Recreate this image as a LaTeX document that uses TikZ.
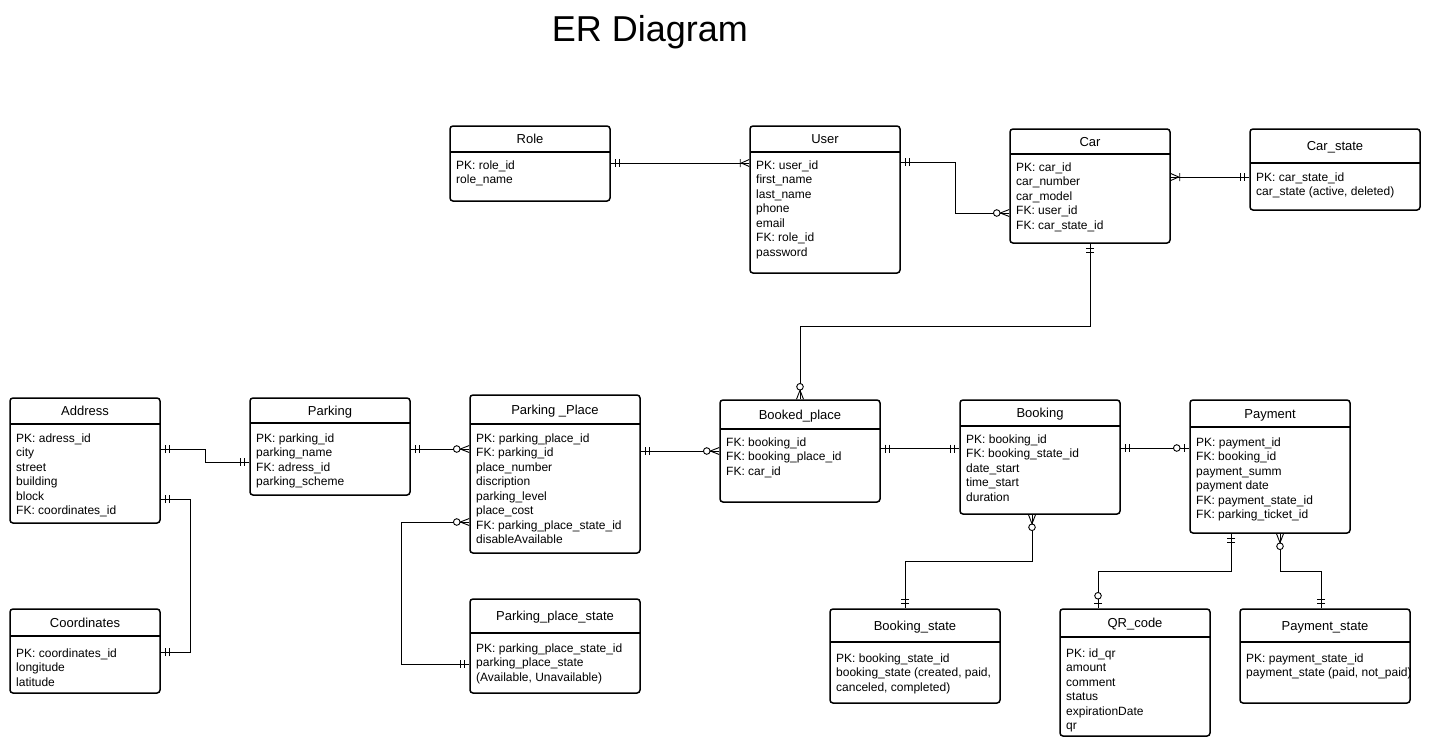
\documentclass[tikz,border=0pt]{standalone}
\usepackage{fontspec}
\setmainfont{Liberation Sans}
\usetikzlibrary{decorations.markings}

\tikzset{
  entbox/.style={draw=black, line width=1.5pt, rounded corners=3pt, inner sep=0pt, fill=white},
  divline/.style={line width=1.5pt},
  enttitle/.style={inner sep=0pt, font=\fontsize{13}{15}\selectfont, text height=9.4pt, text depth=0pt},
  entbody/.style={inner sep=0pt, align=left, anchor=north west, font=\fontsize{12}{14.5}\selectfont},
  conn/.style={draw=black, line width=0.9pt},
  mk/.style={line width=0.9pt},
  startMk/.style={postaction={decorate,decoration={markings,mark=at position 0 with {\begin{scope}[xscale=-1]#1\end{scope}}}}},
  endMk/.style={postaction={decorate,decoration={markings,mark=at position 1 with {#1}}}},
}

\newcommand{\mkOne}{\draw[mk] (-5,-4) -- (-5,4) (-9,-4) -- (-9,4);}
\newcommand{\mkOneMany}{\draw[mk] (-8,0) -- (0,3.5) (-8,0) -- (0,-3.5) (-9,-4) -- (-9,4);}
\newcommand{\mkZeroMany}{\draw[mk] (-9,0) -- (0,3.5) (-9,0) -- (0,-3.5); \draw[mk, fill=white] (-12.5,0) circle (3.3);}
\newcommand{\mkZeroOne}{\draw[mk] (-5,-4) -- (-5,4); \draw[mk, fill=white] (-12.5,0) circle (3.3);}

% name, x1, y1, x2, y2, ydiv, title, body, first baseline
\newcommand{\erEntity}[9]{%
  \node[entbox, minimum width=#4-#2, minimum height=#5-#3] (#1) at ({(#2+#4)/2},{(#3+#5)/2}) {};
  \draw[divline] (#2,#6) -- (#4,#6);
  \node[enttitle] (#1-title) at ({(#2+#4)/2},{(#3+#6)/2}) {#7};
  \node[entbody] (#1-body) at (#2+6,#9-9) {\rule{0pt}{10pt}#8};
}

\begin{document}
\begin{tikzpicture}[x=1pt, y=-1pt]
\useasboundingbox (0,0) rectangle (1432,748);

\node[inner sep=0pt, font=\fontsize{36}{40}\selectfont] (title) at (650,32) {ER Diagram};

\erEntity{role}{450}{126}{610}{201}{152}{Role}{PK: role\_id\\role\_name}{168}
\erEntity{user}{750}{126}{900}{273}{152}{User}{PK: user\_id\\first\_name\\last\_name\\phone\\email\\FK: role\_id\\password}{168}
\erEntity{car}{1010}{129}{1170}{243}{154}{Car}{PK: car\_id\\car\_number\\car\_model\\FK: user\_id\\FK: car\_state\_id}{170}
\erEntity{carstate}{1250}{129}{1420}{210}{163}{Car\_state}{PK: car\_state\_id\\car\_state (active, deleted)}{180}
\erEntity{address}{10}{398}{160}{523}{424}{Address}{PK: adress\_id\\city\\street\\building\\block\\FK: coordinates\_id}{441}
\erEntity{parking}{250}{398}{410}{495}{423}{Parking}{PK: parking\_id\\parking\_name\\FK: adress\_id\\parking\_scheme}{441}
\erEntity{pplace}{470}{395}{640}{553}{424}{Parking \_Place}{PK: parking\_place\_id\\FK: parking\_id\\place\_number\\discription\\parking\_level\\place\_cost\\FK: parking\_place\_state\_id\\disableAvailable}{441}
\erEntity{bplace}{720}{400}{880}{502}{429}{Booked\_place}{FK: booking\_id\\FK: booking\_place\_id\\FK: car\_id}{445}
\erEntity{booking}{960}{400}{1120}{514}{426}{Booking}{PK: booking\_id\\FK: booking\_state\_id\\date\_start\\time\_start\\duration}{442}
\erEntity{payment}{1190}{400}{1350}{533}{427}{Payment}{PK: payment\_id\\FK: booking\_id\\payment\_summ\\payment date\\FK: payment\_state\_id\\FK: parking\_ticket\_id}{445}
\erEntity{coords}{10}{609}{160}{693}{636}{Coordinates}{PK: coordinates\_id\\longitude\\latitude}{656}
\erEntity{ppstate}{470}{599}{640}{693}{633}{Parking\_place\_state}{PK: parking\_place\_state\_id\\parking\_place\_state\\(Available, Unavailable)}{651}
\erEntity{bstate}{830}{609}{1000}{703}{642}{Booking\_state}{PK: booking\_state\_id\\booking\_state (created, paid,\\canceled, completed)}{661}
\erEntity{qr}{1060}{609}{1210}{736}{637}{QR\_code}{PK: id\_qr\\amount\\comment\\status\\expirationDate\\qr}{656}
\erEntity{pstate}{1240}{609}{1410}{703}{642}{Payment\_state}{PK: payment\_state\_id\\payment\_state (paid, not\_paid)}{661}

% connectors
\draw[conn, startMk=\mkOne, endMk=\mkOneMany] (role.east |- 0,163) -- (user.west |- 0,163);
\draw[conn, startMk=\mkOne, endMk=\mkZeroMany] (user.east |- 0,162) -- (955,162) -- (955,213) -- (car.west |- 0,213);
\draw[conn, startMk=\mkOneMany, endMk=\mkOne] (car.east |- 0,177) -- (carstate.west |- 0,177);
\draw[conn, startMk=\mkOne, endMk=\mkZeroMany] (car.south) -- (1090,326) -| (bplace.north);
\draw[conn, startMk=\mkOne, endMk=\mkOne] (address.east |- 0,449) -- (205,449) |- (parking.west |- 0,462);
\draw[conn, startMk=\mkOne, endMk=\mkOne] (address.east |- 0,499) -- (190,499) |- (coords.east |- 0,652);
\draw[conn, startMk=\mkOne, endMk=\mkZeroMany] (parking.east |- 0,449) -- (pplace.west |- 0,449);
\draw[conn, startMk=\mkOne, endMk=\mkZeroMany] (pplace.east |- 0,451) -- (bplace.west |- 0,451);
\draw[conn, startMk=\mkZeroMany, endMk=\mkOne] (pplace.west |- 0,522) -- (401,522) |- (ppstate.west |- 0,664);
\draw[conn, startMk=\mkOne, endMk=\mkOne] (bplace.east |- 0,448.5) -- (booking.west |- 0,448.5);
\draw[conn, startMk=\mkOne, endMk=\mkZeroOne] (booking.east |- 0,448) -- (payment.west |- 0,448);
\draw[conn, startMk=\mkZeroMany, endMk=\mkOne] (booking.south -| 1032,0) -- (1032,561) -| (bstate.north -| 905,0);
\draw[conn, startMk=\mkOne, endMk=\mkZeroOne] (payment.south -| 1231,0) -- (1231,571) -| (qr.north -| 1098,0);
\draw[conn, startMk=\mkZeroMany, endMk=\mkOne] (payment.south -| 1280,0) -- (1280,571) -| (pstate.north -| 1321,0);
\end{tikzpicture}
\end{document}
